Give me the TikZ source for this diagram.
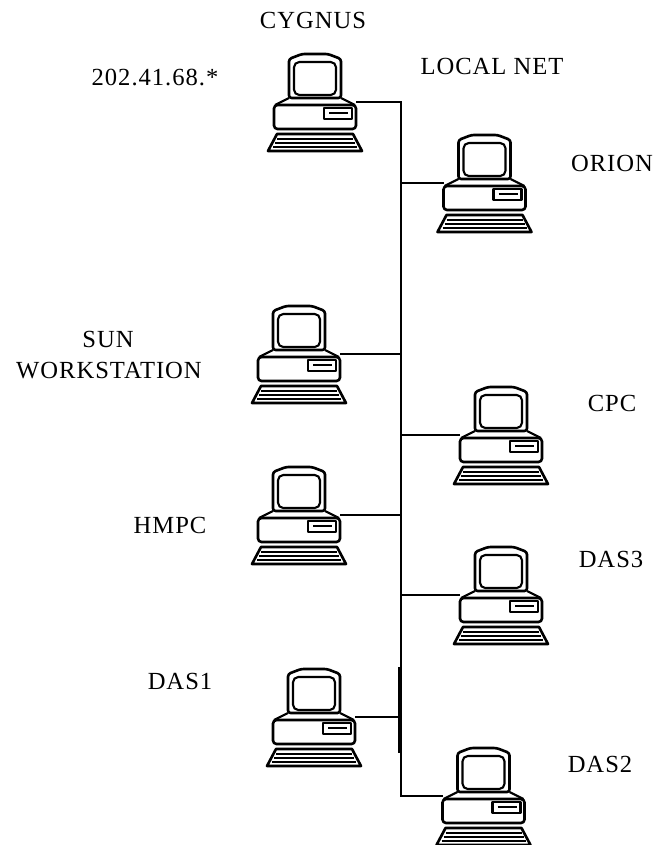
\documentclass[tikz,border=0pt]{standalone}
\usepackage{fontspec}
\setmainfont[LetterSpace=4]{Liberation Serif}
\usetikzlibrary{positioning, calc}
\tikzset{
  lbl/.style={font=\fontsize{14}{16}\selectfont, inner sep=0pt, align=center},
  net/.style={line width=1.1pt, black},
  pc/.style={line width=1.2pt, line join=round, black},
  computer/.pic={
    % monitor, origin at top centre
    \draw[pc, line width=1.5pt, rounded corners=1.5] (-26,45) -- (-26,6) -- (-13,1) -- (13,1) -- (26,6) -- (26,45) -- cycle;
    \draw[pc, rounded corners=3] (-21,9) rectangle (21,42);
    % case
    \draw[pc] (-26,45) -- (-40,52) (26,45) -- (40,52);
    \draw[pc, line width=1.5pt, rounded corners=2] (-41,52) rectangle (41,76);
    \draw[pc] (9,55) rectangle (37,66);
    \draw[line width=1pt] (14,60) -- (33,60);
    % keyboard
    \draw[pc, line width=1.5pt] (-38,81) -- (38,81) -- (47,98) -- (-47,98) -- cycle;
    \draw[line width=1pt] (-38,86) -- (38,86) (-40,90) -- (40,90) (-42,94) -- (42,94);
    \coordinate (-west) at (-41,49);
    \coordinate (-east) at (41,49);
  }
}
\begin{document}
\begin{tikzpicture}[x=0.02cm, y=-0.02cm]
  \useasboundingbox (0,0) rectangle (659,845);
  \pic (cygnus) at (315,53) {computer};
  \pic (orion) at (484.5,134) {computer};
  \pic (sun) at (299,305) {computer};
  \pic (cpc) at (501,386) {computer};
  \pic (hmpc) at (299,466) {computer};
  \pic (das3) at (501,546) {computer};
  \pic (das1) at (314,668) {computer};
  \pic (das2) at (483.5,747) {computer};
  % bus
  \coordinate (busx) at (401,0);
  \coordinate (thicka) at (400,667);
  \coordinate (thickb) at (400,753);
  \draw[net] (cygnus-east) -- (cygnus-east -| busx) -- (das2-west -| busx) -- (das2-west);
  \draw[line width=2pt] (thicka) -- (thickb);
  \draw[net] (orion-west) -- (orion-west -| busx);
  \draw[net] (sun-east) -- (sun-east -| busx);
  \draw[net] (cpc-west) -- (cpc-west -| busx);
  \draw[net] (hmpc-east) -- (hmpc-east -| busx);
  \draw[net] (das3-west) -- (das3-west -| busx);
  \draw[net] (das1-east) -- (das1-east -| busx);
  % labels
  \node[lbl] (cygnuslbl) at (313,20) {CYGNUS};
  \node[lbl] (iplbl) at (155,77) {202.41.68.*};
  \node[lbl] (locallbl) at (492,66) {LOCAL NET};
  \node[lbl] (orionlbl) at (612,163) {ORION};
  \node[lbl] (sunlbl) at (108,339.5) {SUN};
  \node[lbl] (worklbl) at (109,371) {WORKSTATION};
  \node[lbl] (cpclbl) at (612,403) {CPC};
  \node[lbl] (hmpclbl) at (170,525) {HMPC};
  \node[lbl] (das3lbl) at (611,559.5) {DAS3};
  \node[lbl] (das1lbl) at (180,681) {DAS1};
  \node[lbl] (das2lbl) at (600,764) {DAS2};
\end{tikzpicture}
\end{document}
